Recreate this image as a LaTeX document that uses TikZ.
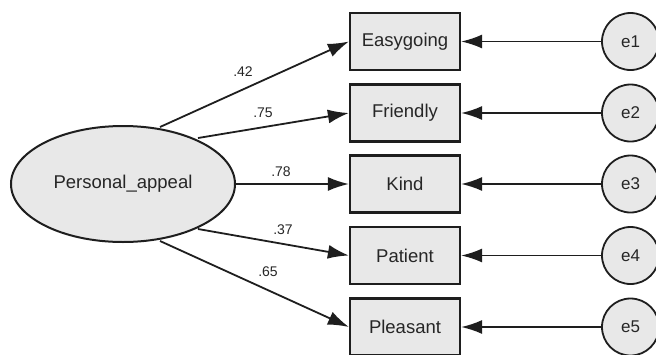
\documentclass[tikz,border=0pt]{standalone}
\usepackage{fontspec}
\setmainfont{Liberation Sans}
\usetikzlibrary{arrows.meta,shapes.geometric}
\definecolor{fillgray}{HTML}{E8E8E8}
\definecolor{linegray}{HTML}{1E1E1E}
\definecolor{textgray}{HTML}{262626}
\begin{document}
\begin{tikzpicture}[x=1pt,y=-1pt,
  obs/.style={draw=linegray,line width=2.2pt,fill=fillgray,minimum width=110pt,minimum height=57pt,inner sep=0pt,text=textgray,font=\fontsize{18.5}{20}\selectfont},
  err/.style={circle,draw=linegray,line width=1.8pt,fill=fillgray,minimum size=57pt,inner sep=0pt,text=textgray,font=\fontsize{17}{19}\selectfont},
  lat/.style={ellipse,draw=linegray,line width=2pt,fill=fillgray,minimum width=224pt,minimum height=116pt,inner sep=0pt,text=textgray,font=\fontsize{18.5}{20}\selectfont},
  conn/.style={draw=linegray,line width=1.8pt,-{Latex[length=21pt,width=14pt]}},
  wlabel/.style={font=\fontsize{14}{16}\selectfont,inner sep=0pt,text=textgray}
]
\useasboundingbox (0,0) rectangle (656,354);
\begin{scope}
\clip (0,0) rectangle (656,354);
\node[lat] (pa) at (123,184) {Personal\_appeal};
\node[obs] (b1) at (405,41.5) {Easygoing};
\node[obs] (b2) at (405,113) {Friendly};
\node[obs] (b3) at (405,184) {Kind};
\node[obs] (b4) at (405,255.5) {Patient};
\node[obs] (b5) at (405,327) {Pleasant};
\node[err] (e1) at (630.5,41.5) {e1};
\node[err] (e2) at (630.5,113) {e2};
\node[err] (e3) at (630.5,184) {e3};
\node[err] (e4) at (630.5,255.5) {e4};
\node[err] (e5) at (630.5,327) {e5};
\coordinate (s1) at (160,127);
\coordinate (s2) at (198,138);
\coordinate (s4) at (198,229);
\coordinate (s5) at (160,241);
\draw[conn] (s1) -- (b1.west);
\draw[conn] (s2) -- (b2.west);
\draw[conn] (pa.east) -- (b3.west);
\draw[conn] (s4) -- (b4.west);
\draw[conn] (s5) -- (b5.west);
\foreach \i in {1,...,5} {\draw[conn] (e\i.west) -- (b\i.east);}
\node[wlabel] (l1) at (243,72) {.42};
\node[wlabel] (l2) at (263,113) {.75};
\node[wlabel] (l3) at (281,172) {.78};
\node[wlabel] (l4) at (283,230) {.37};
\node[wlabel] (l5) at (268,272) {.65};
\end{scope}
\end{tikzpicture}
\end{document}
